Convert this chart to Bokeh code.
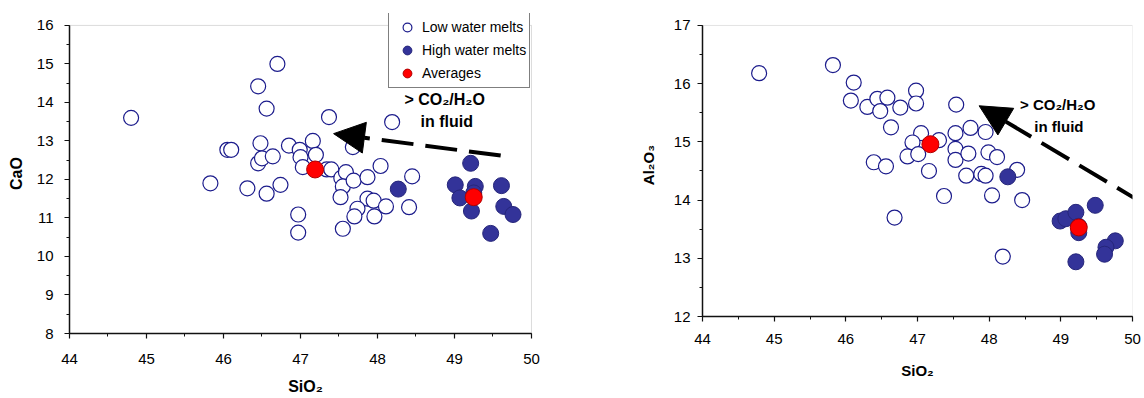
from bokeh.plotting import figure
from bokeh.layouts import row
from bokeh.models import (Range1d, SingleIntervalTicker, Legend, LegendItem,
                          Arrow, NormalHead, Label, BoxAnnotation)
from bokeh.embed import file_html
from bokeh.resources import INLINE

# ---------------- data: CaO vs SiO2 ----------------
low_sio2_a = [44.80, 45.83, 46.05, 46.10, 46.31, 46.45, 46.48, 46.45, 46.50, 46.56,
              46.56, 46.64, 46.70, 46.74, 46.85, 46.99, 47.00, 47.03, 46.97, 46.97,
              47.16, 47.20, 47.34, 47.40, 47.37, 47.53, 47.59, 47.68, 47.55, 47.52,
              47.69, 47.87, 47.87, 47.74, 47.70, 47.55, 48.04, 48.45, 48.41, 47.95,
              47.96, 48.11, 48.19]
low_cao = [13.60, 11.90, 12.77, 12.77, 11.77, 14.42, 12.94, 12.42, 12.55, 11.63,
           13.84, 12.60, 15.00, 11.86, 12.88, 12.77, 12.58, 12.32, 11.09, 10.62,
           13.00, 12.64, 12.26, 12.26, 13.62, 12.04, 12.19, 12.84, 11.82, 11.54,
           11.97, 12.06, 11.50, 11.24, 11.04, 10.72, 12.35, 12.08, 11.28, 11.45,
           11.04, 11.30, 13.49]
high_sio2_a = [48.27, 49.21, 49.01, 49.27, 49.61, 49.07, 49.22, 49.64, 49.76, 49.47, 49.25]
high_cao = [11.75, 12.42, 11.86, 11.82, 11.84, 11.52, 11.18, 11.30, 11.09, 10.60, 11.65]
avg_sio2_a = [47.19, 49.25]
avg_cao = [12.26, 11.54]

# ---------------- data: Al2O3 vs SiO2 ----------------
low_sio2_b = [44.79, 45.82, 46.11, 46.07, 46.30, 46.44, 46.48, 46.58, 46.63, 46.39,
              46.56, 46.76, 46.98, 46.98, 47.54, 47.05, 46.93, 47.30, 46.86, 47.01,
              47.16, 47.53, 47.74, 47.95, 47.53, 47.53, 47.71, 47.99, 48.11, 47.68,
              47.89, 47.95, 48.39, 47.37, 48.04, 48.46, 46.68, 48.19]
low_al2o3 = [16.18, 16.32, 16.02, 15.71, 15.60, 15.74, 15.53, 15.76, 15.25, 14.65,
             14.58, 15.59, 15.88, 15.66, 15.64, 15.15, 14.99, 15.03, 14.75, 14.79,
             14.50, 15.15, 15.24, 15.17, 14.88, 14.69, 14.80, 14.82, 14.74, 14.42,
             14.45, 14.42, 14.52, 14.07, 14.08, 14.00, 13.70, 13.03]
high_sio2_b = [48.26, 48.99, 49.07, 49.21, 49.48, 49.25, 49.25, 49.76, 49.63, 49.61, 49.21]
high_al2o3 = [14.40, 13.64, 13.68, 13.79, 13.91, 13.44, 13.55, 13.30, 13.19, 13.07, 12.94]
avg_sio2_b = [47.18, 49.25]
avg_al2o3 = [14.96, 13.53]

legend_labels = ["Low water melts", "High water melts", "Averages"]
x_label = "SiO\u2082"
y_label_a = "CaO"
y_label_b = "Al\u2082O\u2083"
note_line1 = "> CO\u2082/H\u2082O"
note_line2 = "in fluid"

# axis extents (ticks) of each chart
x_bounds = (44, 50)
y_bounds_a = (8, 16)
y_bounds_b = (12, 17)

FONT = "Liberation Sans"
OPEN_EDGE = "#1c1c8c"
FILL_BLUE = "#333399"
EDGE_BLUE = "#26267a"
RED = "#ff0000"


def style(p, outline, tick_fs, title_fs, xlab_stand, ylab_stand, xstand, ystand, yb):
    p.outline_line_color = None
    p.xgrid.visible = False
    p.ygrid.visible = False
    p.background_fill_color = "white"
    p.border_fill_color = "white"
    p.xaxis.bounds = x_bounds
    p.yaxis.bounds = yb
    p.add_layout(BoxAnnotation(left=x_bounds[0], right=x_bounds[1], bottom=yb[0], top=yb[1],
                               fill_color=None, fill_alpha=0, line_color=outline,
                               line_width=1, level="underlay"))
    for ax in (p.xaxis[0], p.yaxis[0]):
        ax.axis_line_color = "#111111"
        ax.axis_line_width = 1.5
        ax.major_tick_line_color = "#111111"
        ax.minor_tick_line_color = "#111111"
        ax.major_tick_line_width = 1.2
        ax.minor_tick_line_width = 1
        ax.major_tick_out = 5
        ax.major_tick_in = 0
        ax.minor_tick_out = 3
        ax.minor_tick_in = 0
        ax.major_label_text_font = FONT
        ax.major_label_text_font_size = tick_fs
        ax.major_label_text_color = "black"
        ax.axis_label_text_font = FONT
        ax.axis_label_text_font_style = "bold"
        ax.axis_label_text_font_size = title_fs
        ax.axis_label_text_color = "black"
    p.xaxis[0].major_label_standoff = xlab_stand
    p.yaxis[0].major_label_standoff = ylab_stand
    p.xaxis[0].axis_label_standoff = xstand
    p.yaxis[0].axis_label_standoff = ystand


def draw_points(p, lx, ly, hx, hy, ax_, ay):
    r1 = p.scatter(lx, ly, size=15, marker="circle", fill_color="white",
                   line_color=OPEN_EDGE, line_width=1.2)
    r2 = p.scatter(hx, hy, size=16, marker="circle", fill_color=FILL_BLUE,
                   line_color=EDGE_BLUE, line_width=1)
    r3 = p.scatter(ax_, ay, size=17, marker="circle", fill_color=RED,
                   line_color="#b00000", line_width=1)
    return r1, r2, r3


# ---------------- left figure ----------------
# frame is a little larger than the axis extents so the legend box can overhang
p1 = figure(width=628, height=398, output_backend="svg", toolbar_location=None,
            x_range=Range1d(44, 50.13), y_range=Range1d(8, 16.31),
            min_border_left=69, min_border_right=87, min_border_top=13,
            min_border_bottom=65)
p1.xaxis.ticker = SingleIntervalTicker(interval=1, num_minor_ticks=2)
p1.yaxis.ticker = SingleIntervalTicker(interval=1, num_minor_ticks=2)
p1.xaxis.axis_label = x_label
p1.yaxis.axis_label = y_label_a
style(p1, "#8a8a8a", "15px", "16px", 15, 11, 11, 9, y_bounds_a)
r1, r2, r3 = draw_points(p1, low_sio2_a, low_cao, high_sio2_a, high_cao, avg_sio2_a, avg_cao)

p1.add_layout(Arrow(end=NormalHead(size=31, fill_color="black", line_color="black"),
                    x_start=49.6, y_start=12.62, x_end=47.43, y_end=13.19,
                    line_width=4, line_dash="32 12", line_color="black"))
p1.add_layout(Label(x=48.35, y=14.08, text=note_line1, text_font=FONT,
                    text_font_style="bold", text_font_size="16px",
                    text_baseline="middle", text_color="black"))
p1.add_layout(Label(x=48.56, y=13.51, text=note_line2, text_font=FONT,
                    text_font_style="bold", text_font_size="16px",
                    text_baseline="middle", text_color="black"))

legend = Legend(items=[LegendItem(label=legend_labels[0], renderers=[r1]),
                       LegendItem(label=legend_labels[1], renderers=[r2]),
                       LegendItem(label=legend_labels[2], renderers=[r3])],
                location=(319, 245), padding=3, spacing=1, margin=0,
                glyph_width=30, glyph_height=22, label_height=22,
                label_standoff=0, label_text_font=FONT, label_text_font_size="14px",
                label_text_color="black", border_line_color="black",
                border_line_width=1, background_fill_color="white",
                background_fill_alpha=1)
p1.add_layout(legend)

# ---------------- right figure ----------------
p2 = figure(width=516, height=381, output_backend="svg", toolbar_location=None,
            x_range=Range1d(44, 50), y_range=Range1d(12, 17.206),
            min_border_left=74, min_border_right=12, min_border_top=13,
            min_border_bottom=65)
p2.xaxis.ticker = SingleIntervalTicker(interval=1, num_minor_ticks=2)
p2.yaxis.ticker = SingleIntervalTicker(interval=1, num_minor_ticks=2)
p2.xaxis.axis_label = x_label
p2.yaxis.axis_label = y_label_b
style(p2, "#a6a6a6", "15px", "15px", 12, 7, 15, 14, y_bounds_b)
draw_points(p2, low_sio2_b, low_al2o3, high_sio2_b, high_al2o3, avg_sio2_b, avg_al2o3)

p2.add_layout(Arrow(end=NormalHead(size=31, fill_color="black", line_color="black"),
                    x_start=50.17, y_start=13.93, x_end=47.86, y_end=15.62,
                    line_width=4, line_dash="32 12", line_color="black"))
p2.add_layout(Label(x=48.43, y=15.64, text=note_line1, text_font=FONT,
                    text_font_style="bold", text_font_size="15px",
                    text_baseline="middle", text_color="black"))
p2.add_layout(Label(x=48.63, y=15.26, text=note_line2, text_font=FONT,
                    text_font_style="bold", text_font_size="15px",
                    text_baseline="middle", text_color="black"))

layout = row(p1, p2)
open("out.html", "w").write(file_html(layout, INLINE))
